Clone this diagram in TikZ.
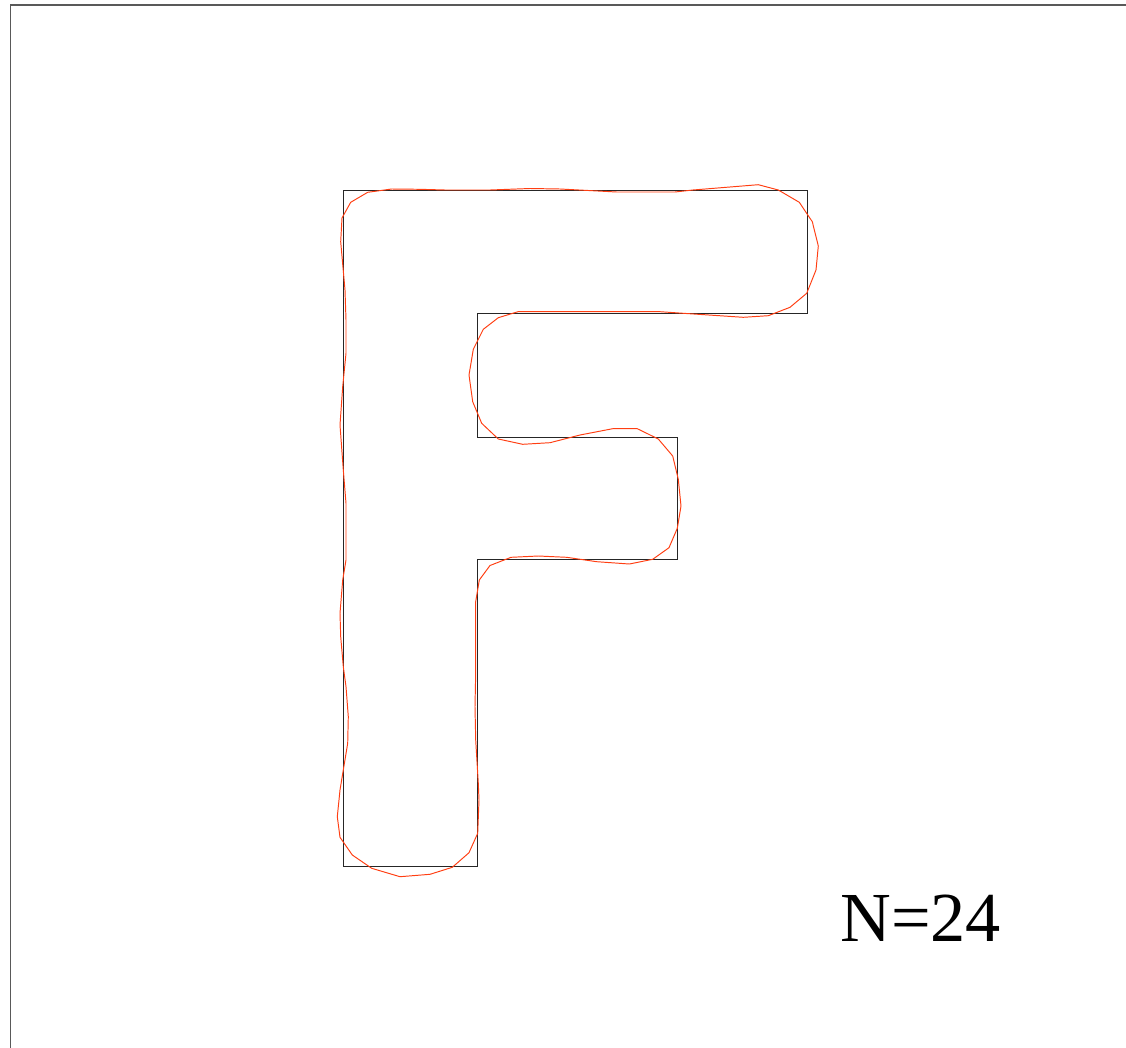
\documentclass[tikz,border=0pt]{standalone}
\usepackage{fontspec}
\setmainfont{Liberation Serif}
\usepackage{xcolor}
\usetikzlibrary{positioning}
\definecolor{fcurve}{RGB}{255,62,18}

\begin{document}
\begin{tikzpicture}[
    x=0.02cm, y=-0.02cm,
    frame/.style={
        draw=black!65,
        line width=0.8pt
    },
    letter/.style={
        draw=black!85,
        line width=0.55pt
    },
    approx/.style={
        draw=fcurve,
        line width=0.55pt,
        line join=round
    },
    caption/.style={
        font=\fontsize{40}{40}\selectfont,
        inner sep=0pt,
        anchor=base west
    }
]

\useasboundingbox (0,0) rectangle (1126,1048);
\clip (0,0) rectangle (1126,1048);

% outer frame, runs past the right and bottom edges
\draw[frame] (10.5,5) rectangle (1140,1060);

% the letter F
\draw[letter] (343.5,190) -- (807,190) -- (807,313) -- (477,313)
    -- (477,437) -- (677,437) -- (677,559.5) -- (477,559.5)
    -- (477,866) -- (343.5,866) -- cycle;

% truncated Fourier approximation
\draw[approx] (340.7,241.7) -- (342,218) -- (350.7,202.3) -- (367.7,192.3)
    -- (391.7,189) -- (420,189.3) -- (445,190) -- (490,190) -- (530,188.5)
    -- (560,189) -- (616.7,192) -- (675,192) -- (693,190) -- (758.3,184.7)
    -- (778.3,190) -- (799.3,202.3) -- (812.3,221.7) -- (818.3,246)
    -- (816,270) -- (806.7,293.3) -- (790,307.3) -- (768.3,315.7)
    -- (743.3,317.3) -- (683.3,313.3) -- (660,311.7) -- (518,311.7)
    -- (498.3,317.7) -- (483.3,329.3) -- (473.3,349.3) -- (469,375)
    -- (472.7,401.7) -- (481.7,423.3) -- (498.3,439) -- (522.7,444.3)
    -- (550,442.7) -- (580,435) -- (612.7,428.7) -- (637.3,428.7)
    -- (658.3,439) -- (672.7,456) -- (678.3,479.3) -- (681,506)
    -- (677.3,528.3) -- (669,547.7) -- (652.7,559.3) -- (629.3,564)
    -- (596.7,561.7) -- (566.7,557.3) -- (538.3,556) -- (511,557.3)
    -- (490,565.5) -- (479.3,580) -- (475.7,601.7) -- (475.7,673)
    -- (475,706.7) -- (475.7,740) -- (478.3,783.3) -- (479,800)
    -- (477.7,833.3) -- (469,852.7) -- (452.3,867.3) -- (430,874.3)
    -- (400,876.7) -- (371.7,868.3) -- (352.3,855) -- (340,837.3)
    -- (337.3,816.7) -- (340,790) -- (347.7,743.3) -- (348.3,716.7)
    -- (346,686.7) -- (343.3,666.7) -- (340.7,636.7) -- (340,613.3)
    -- (342.7,580) -- (346,560) -- (346,503.3) -- (343.3,470)
    -- (340,425) -- (342.7,386.7) -- (346,353.3) -- (346,320)
    -- (345,290) -- cycle;

\node[caption] (count) at (840,941.7) {N=24};

\end{tikzpicture}
\end{document}
